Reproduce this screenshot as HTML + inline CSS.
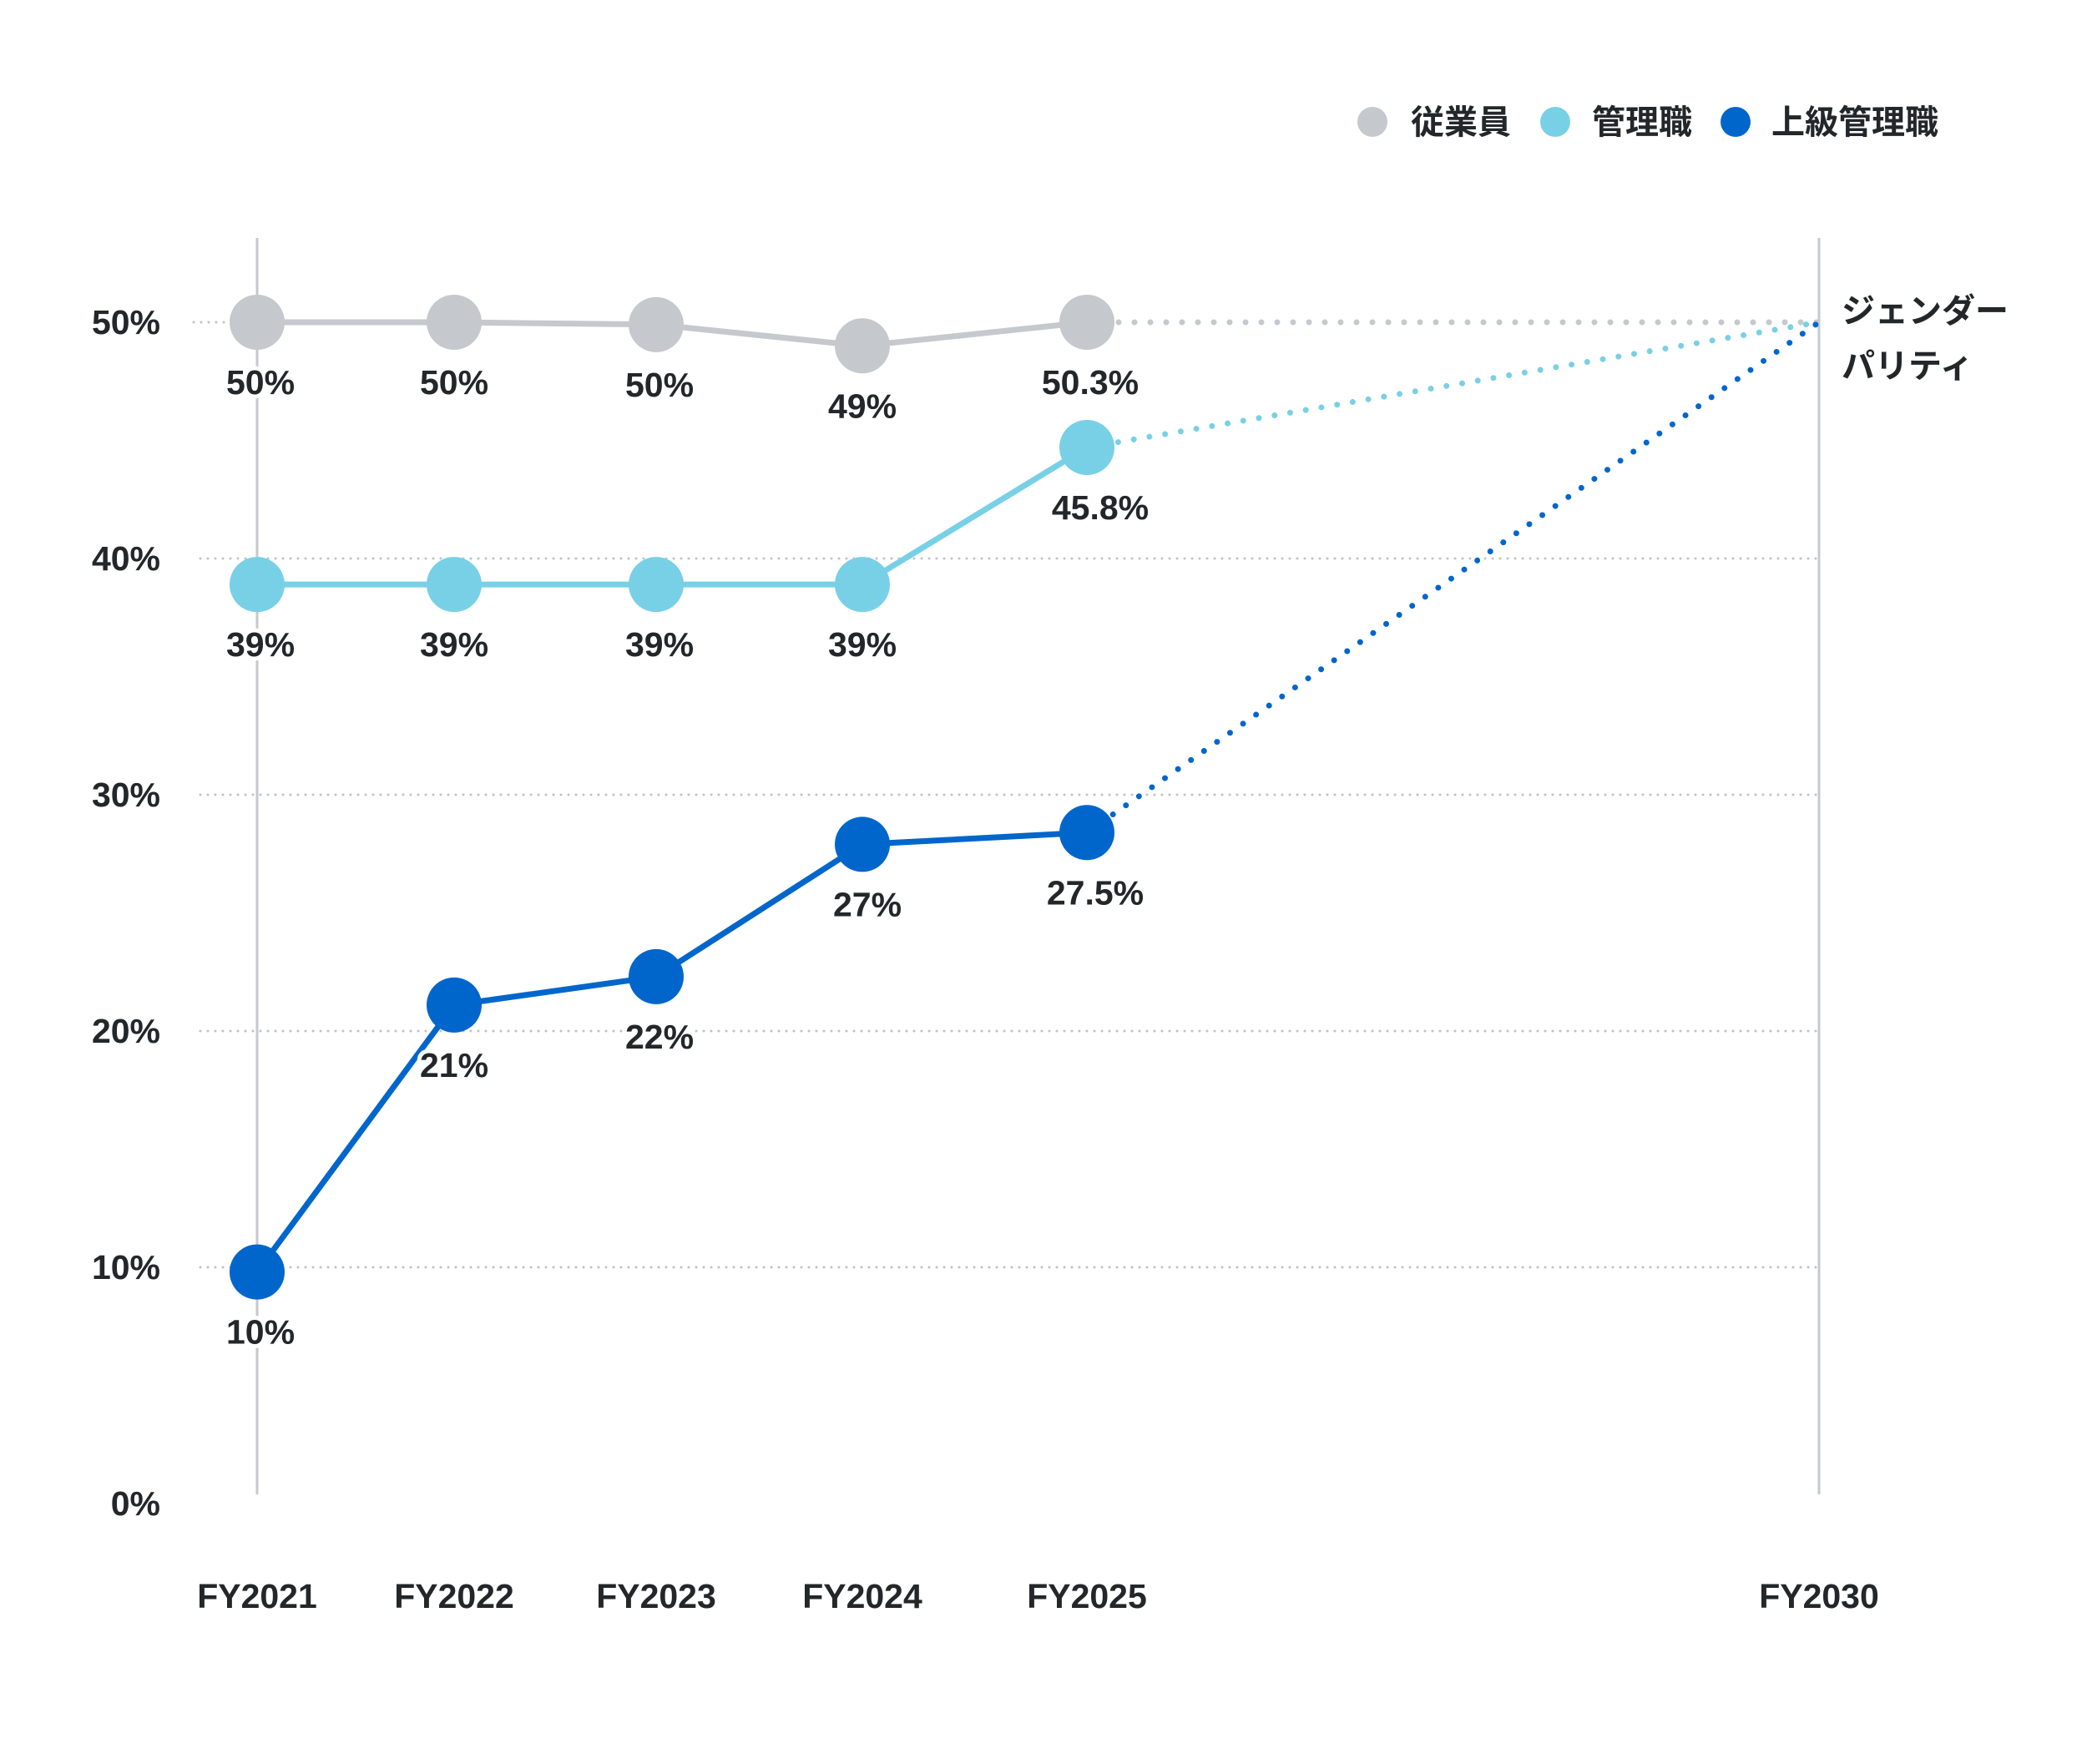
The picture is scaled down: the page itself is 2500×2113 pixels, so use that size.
<!DOCTYPE html>
<html><head><meta charset="utf-8">
<style>
html,body{margin:0;padding:0;background:#fff;}
svg{display:block;font-family:"Liberation Sans","Noto Sans CJK JP",sans-serif;}
</style></head>
<body>
<svg id="chart" width="2500" height="2113" viewBox="0 0 2500 2113" xmlns="http://www.w3.org/2000/svg">
<g id="grid"></g>
<g id="series"></g>
<g id="labels"></g>
<g id="legend">
  <circle cx="1644" cy="146" r="18" fill="#c5c9cd"/>
  <text x="1690" y="160" font-size="40" font-weight="bold" fill="#23272a">従業員</text>
  <circle cx="1863" cy="146" r="18" fill="#78d0e6"/>
  <text x="1907" y="160" font-size="40" font-weight="bold" fill="#23272a">管理職</text>
  <circle cx="2079" cy="146" r="18" fill="#0066cc"/>
  <text x="2122" y="160" font-size="40" font-weight="bold" fill="#23272a">上級管理職</text>
</g>
<text x="2206" y="386" font-size="40" font-weight="bold" fill="#23272a">ジェンダー</text>
<text x="2206" y="452" font-size="40" font-weight="bold" fill="#23272a">パリティ</text>
</svg>
<script>
const categories = ["FY2021","FY2022","FY2023","FY2024","FY2025"];
const targetCategory = "FY2030";
const yTicks = [0,10,20,30,40,50];
const employees = [50, 50, 49.9, 49.0, 50.0];
const managers = [38.9, 38.9, 38.9, 38.9, 44.7];
const seniorManagers = [9.8, 21.1, 22.3, 27.9, 28.4];
const employeesLabels = ["50%","50%","50%","49%","50.3%"];
const managersLabels = ["39%","39%","39%","39%","45.8%"];
const seniorLabels = ["10%","21%","22%","27%","27.5%"];
const targetValue = 50;

const NS = "http://www.w3.org/2000/svg";
const xPos = {"FY2021":308,"FY2022":544,"FY2023":786,"FY2024":1033,"FY2025":1302,"FY2030":2179};
function x(cat){ return xPos[cat]; }
function y(v){ return 1801 - v * 28.3; }
function mk(tag, attrs, parent){
  const e = document.createElementNS(NS, tag);
  for (const k in attrs) e.setAttribute(k, attrs[k]);
  parent.appendChild(e);
  return e;
}
const grid = document.getElementById("grid");
const series = document.getElementById("series");
const labels = document.getElementById("labels");
const TXT = "#23272a";

// vertical lines
[categories[0], targetCategory].forEach(c => {
  const l = mk("line", {x1:x(c), x2:x(c), y1:285, y2:1790, stroke:"#c5c9cd", "stroke-width":3}, grid);
  
  
});
// gridlines + y labels
yTicks.forEach(t => {
  if (t > 0) {
    const g = mk("line", {x1:t===50?232:240, x2:t===50?300:2180, y1:y(t), y2:y(t), stroke:"#c0c3c6", "stroke-width":3, "stroke-dasharray":"0 9", "stroke-linecap":"round"}, grid);
    
    
  }
  const tx = mk("text", {x:192, y:y(t)+14, "text-anchor":"end", "font-size":41, "font-weight":"bold", fill:TXT}, grid);
  tx.textContent = t + "%";
  
  
});
// x labels
categories.concat([targetCategory]).forEach(c => {
  const tx = mk("text", {x:x(c), y:1926, "text-anchor":"middle", "font-size":41, "font-weight":"bold", fill:TXT}, grid);
  tx.textContent = c;
  
  
});

function drawSeries(name, vals, labs, color, dxs){
  const last = vals.length - 1;
  const proj = mk("line", {x1:x(categories[last]), y1:y(vals[last]), x2:x(targetCategory), y2:y(targetValue), stroke:color, "stroke-width":7, "stroke-dasharray":"0 19", "stroke-linecap":"round"}, series);
  
  
  const pts = vals.map((v,i) => x(categories[i]) + "," + y(v)).join(" ");
  const pl = mk("polyline", {points:pts, fill:"none", stroke:color, "stroke-width":7, "stroke-linejoin":"round"}, series);
  
  
  vals.forEach((v,i) => {
    const c = mk("circle", {cx:x(categories[i]), cy:y(v), r:33, fill:color}, series);
    
    
    const t = mk("text", {x:x(categories[i]) + (dxs[i]||0), y:y(v)+86, "text-anchor":"middle", "font-size":41, "font-weight":"bold", fill:TXT, stroke:"#fff", "stroke-width":10, "paint-order":"stroke", "stroke-linejoin":"round"}, labels);
    t.textContent = labs[i];
    
    
  });
}
drawSeries("employees", employees, employeesLabels, "#c5c9cd", [4,0,4,0,4]);
drawSeries("managers", managers, managersLabels, "#78d0e6", [4,0,4,0,16]);
drawSeries("senior-managers", seniorManagers, seniorLabels, "#0066cc", [4,0,4,6,10]);
</script>
</body></html>
